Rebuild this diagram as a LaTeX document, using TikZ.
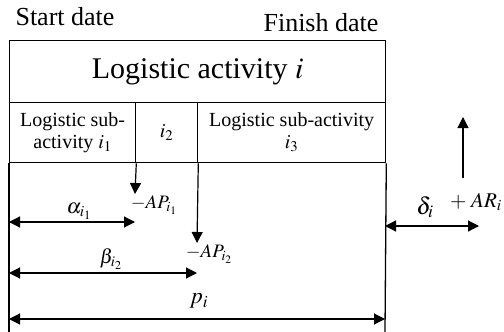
\documentclass[tikz,border=0pt]{standalone}
\usepackage{mathptmx}
\usepackage{fontspec}
\setmainfont{Liberation Serif}
\usetikzlibrary{arrows.meta}
\begin{document}
\begin{tikzpicture}[x=1pt,y=-1pt,
  cell/.style={draw,line width=1.3pt,inner sep=0pt,anchor=north west,align=center},
  subtext/.style={font=\fontsize{20}{22}\selectfont},
  dim/.style={line width=1.2pt,{Triangle[length=11pt,width=11pt]}-{Triangle[length=11pt,width=11pt]}},
  drop/.style={line width=1.2pt,-{Triangle[length=11pt,width=11pt]}},
  lab/.style={inner sep=0pt}]
\useasboundingbox (0,0) rectangle (504,332);
% header row and sub-activity cells
\node[cell,minimum width=376pt,minimum height=62pt,font=\fontsize{30}{34}\selectfont] (act) at (9,40) {Logistic activity $i$};
\node[cell,subtext,minimum width=126pt,minimum height=60pt] (s1) at (9,102) {Logistic sub-\\activity $i_1$};
\node[cell,subtext,minimum width=62pt,minimum height=60pt] (s2) at (135,102) {$i_2$};
\node[cell,subtext,minimum width=188pt,minimum height=60pt] (s3) at (197,102) {Logistic sub-activity\\$i_3$};
% dates
\node[lab,anchor=base,font=\fontsize{26}{30}\selectfont] (start) at (65,26) {Start date};
\node[lab,anchor=base,font=\fontsize{26}{30}\selectfont] (finish) at (321,31) {Finish date};
% side walls below the cells
\coordinate (lb) at (9,332);
\coordinate (rb) at (385,332);
\draw[line width=1.3pt] (s1.south west) -- (lb);
\draw[line width=1.3pt] (s3.south east) -- (rb);
% advance arrows
\coordinate (a1) at (135,194);
\coordinate (a2) at (197,243);
\draw[drop] (s1.south east) -- (a1);
\draw[drop] (s2.south east) -- (a2);
% durations
\coordinate (l1) at (9,222);
\coordinate (l2) at (9,273);
\coordinate (l3) at (9,319);
\coordinate (r1) at (135,222);
\coordinate (r2) at (197,273);
\coordinate (r3) at (385,319);
\draw[dim] (l1) -- (r1);
\draw[dim] (l2) -- (r2);
\draw[dim] (l3) -- (r3);
\node[lab,font=\fontsize{21}{24}\selectfont] (alpha) at (79,211) {$\alpha_{i_1}$};
\node[lab,font=\fontsize{19}{22}\selectfont] (ap1) at (154,205) {$-AP_{i_1}$};
\node[lab,font=\fontsize{20}{24}\selectfont] (beta) at (111,259) {$\beta_{i_2}$};
\node[lab,font=\fontsize{19}{22}\selectfont] (ap2) at (209,254) {$-AP_{i_2}$};
\node[lab,font=\fontsize{23}{26}\selectfont] (p) at (199,301) {$p_i$};
% delay and postponement
\coordinate (dl) at (385,226);
\coordinate (dr) at (479,226);
\coordinate (ub) at (463,178);
\coordinate (ut) at (463,117);
\draw[dim] (dl) -- (dr);
\draw[drop] (ub) -- (ut);
\node[lab,font=\fontsize{24}{28}\selectfont] (delta) at (425,207) {$\delta_i$};
\node[lab,anchor=base west,font=\fontsize{21}{24}\selectfont] (ar) at (450,207) {${+}\;AR_i$};
\end{tikzpicture}
\end{document}
